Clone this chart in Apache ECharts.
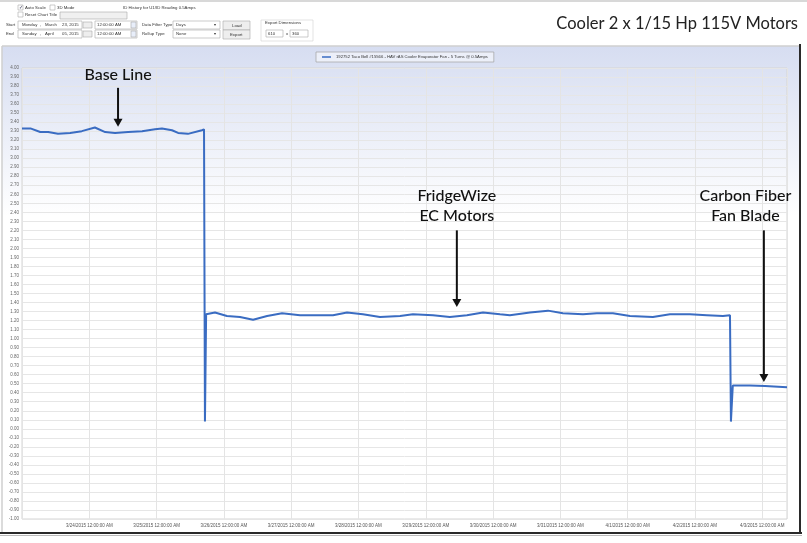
<!DOCTYPE html>
<html><head><meta charset="utf-8">
<script src="https://cdn.jsdelivr.net/npm/echarts@6/dist/echarts.min.js"></script>
<style>html,body{margin:0;padding:0;background:#fff}#c{width:807px;height:543px}</style>
</head><body><div id="c"></div>
<script>
// ---- data ----
const seriesName = '192752 Taco Bell #15566 - HAV rAS Cooler Evaporator Fan - 5 Turns @ 0.5Amps';
const times = [
 '2015-03-23T00:00Z','2015-03-23T03:00Z','2015-03-23T06:30Z','2015-03-23T09:20Z','2015-03-23T12:50Z',
 '2015-03-23T17:10Z','2015-03-23T21:20Z','2015-03-24T02:00Z','2015-03-24T05:40Z','2015-03-24T09:10Z',
 '2015-03-24T13:50Z','2015-03-24T18:50Z','2015-03-24T23:25Z','2015-03-25T01:55Z','2015-03-25T05:30Z',
 '2015-03-25T07:40Z','2015-03-25T11:10Z','2015-03-25T16:10Z','2015-03-25T16:55Z','2015-03-25T17:15Z',
 '2015-03-25T17:40Z','2015-03-25T20:50Z','2015-03-26T01:05Z','2015-03-26T05:45Z','2015-03-26T10:25Z',
 '2015-03-26T15:25Z','2015-03-26T20:45Z','2015-03-27T03:10Z','2015-03-27T09:10Z','2015-03-27T14:55Z',
 '2015-03-27T19:55Z','2015-03-28T01:35Z','2015-03-28T07:40Z','2015-03-28T14:50Z','2015-03-28T19:25Z',
 '2015-03-29T02:35Z','2015-03-29T08:35Z','2015-03-29T14:40Z','2015-03-29T20:25Z','2015-03-30T02:30Z',
 '2015-03-30T06:00Z','2015-03-30T13:10Z','2015-03-30T19:35Z','2015-03-31T00:55Z','2015-03-31T08:05Z',
 '2015-03-31T13:00Z','2015-03-31T18:45Z','2015-04-01T00:50Z','2015-04-01T09:00Z','2015-04-01T15:05Z',
 '2015-04-01T22:10Z','2015-04-02T04:15Z','2015-04-02T10:00Z','2015-04-02T12:30Z','2015-04-02T12:50Z',
 '2015-04-02T13:30Z','2015-04-02T19:35Z','2015-04-03T01:00Z','2015-04-03T08:50Z'
];
const amps = [
 3.33,3.33,3.29,3.29,3.27,
 3.28,3.30,3.34,3.29,3.28,
 3.29,3.30,3.32,3.33,3.31,
 3.28,3.27,3.31,3.32,0.08,
 1.27,1.29,1.25,1.24,1.21,
 1.25,1.28,1.26,1.26,1.26,
 1.29,1.27,1.24,1.25,1.27,
 1.26,1.24,1.26,1.29,1.27,
 1.26,1.29,1.31,1.28,1.27,
 1.28,1.28,1.25,1.24,1.27,
 1.27,1.26,1.25,1.26,0.08,
 0.48,0.48,0.475,0.46
];
const xStart = '2015-03-23T00:00Z';
const xEnd = '2015-04-03T08:50Z';
const yMin = -1, yMax = 4, yStep = 0.1;
const chartTitle = 'Cooler 2 x 1/15 Hp 115V Motors';
// annotations: text, anchor time, text value, arrow from/to values
const noteTexts = ['Base Line', 'FridgeWize\nEC Motors', 'Carbon Fiber\nFan Blade'];
const noteTimes = ['2015-03-24T10:15Z', '2015-03-29T11:05Z', '2015-04-02T18:00Z'];
const noteArrowTimes = ['2015-03-24T10:15Z', '2015-03-29T11:05Z', '2015-04-03T00:35Z'];
const noteTextVals = [3.92, 2.47, 2.47];
const noteArrowFrom = [3.78, 2.20, 2.20];
const noteArrowTo = [3.35, 1.35, 0.52];

// ---- chart ----
const DAY = 86400000;
const chart = echarts.init(document.getElementById('c'), null, {renderer: 'canvas'});
const fmtDay = v => { const d = new Date(v); return (d.getUTCMonth()+1)+'/'+d.getUTCDate()+'/'+d.getUTCFullYear()+' 12:00:00 AM'; };

const ui = [];
const FS = 4.3;
const T = (x, y, s, extra) => ui.push(Object.assign({type:'text', x, y, style:{text:s, fontSize:FS, fill:'#333', fontFamily:'Arial', verticalAlign:'middle'}}, extra||{}));
const B = (x, y, w, h, fill) => ui.push({type:'rect', shape:{x, y, width:w, height:h}, style:{fill: fill||'#fff', stroke:'#a9a9a9', lineWidth:0.6}});
// top toolbar
B(18,5,5,5); T(18.8,7.6,'✓',{style:{text:'✓',fontSize:5,fill:'#335',verticalAlign:'middle'}}); T(25,8,'Auto Scale');
B(50,5,5,5); T(57,8,'3D Mode');
T(123,8,'ID History for U1/ID Reading 0.5Amps');
B(18,12,5,5); T(25,15,'Reset Chart Title');
B(60,12,67,7,'#f0f0f0');
T(6,25,'Start'); B(18,21,64,8); T(22,25,'Monday'); T(40,25,','); T(45,25,'March'); T(62,25,'23, 2015');
B(83,22,9,6,'#eee'); B(95,21,42,8); T(97,25,'12:00:00 AM'); B(131,22,5,6,'#e8eefa');
T(142,25,'Data Filter Type'); B(173,21,47,8); T(176,25,'Days'); T(214,25,'▾');
B(223,21,27,9,'#eee'); T(232,25.5,'Load');
T(6,34,'End'); B(18,30,64,8); T(22,34,'Sunday'); T(40,34,','); T(45,34,'April'); T(62,34,'05, 2015');
B(83,31,9,6,'#eee'); B(95,30,42,8); T(97,34,'12:00:00 AM'); B(131,31,5,6,'#e8eefa');
T(142,34,'Rollup Type'); B(173,30,47,8); T(176,34,'None'); T(214,34,'▾');
B(223,30,27,9,'#eee'); T(230,34.5,'Export');
ui.push({type:'rect', shape:{x:261,y:20,width:52,height:21}, style:{fill:'none', stroke:'#d0d0d0', lineWidth:0.6}});
T(265,23,'Export Dimensions');
B(266,30,17,7); T(268,33.5,'610'); T(286,33.5,'x'); B(290,30,18,7); T(292,33.5,'360');

const bgEls = [
  {type:'rect', z:-10, shape:{x:0,y:0,width:807,height:2}, style:{fill:'#d8d8d8'}},
  {type:'rect', z:-10, shape:{x:2,y:46,width:798,height:487},
   style:{fill:new echarts.graphic.LinearGradient(0,0,0,1,[{offset:0,color:'#d6ddf1'},{offset:0.35,color:'#ffffff'},{offset:1,color:'#ffffff'}]), stroke:'#cfcfcf', lineWidth:1}},
  {type:'rect', z:-9, shape:{x:0,y:532,width:802,height:2}, style:{fill:'#2a2a2a'}},
  {type:'rect', z:-9, shape:{x:799,y:44,width:2,height:490}, style:{fill:'#2a2a2a'}},
  {type:'rect', z:-9, shape:{x:0,y:535,width:802,height:1}, style:{fill:'#bbb'}},
  {type:'text', x:798, y:24, style:{text:chartTitle, fontSize:16.5, fontFamily:'Lato', fill:'#222', align:'right', verticalAlign:'middle'}}
];

chart.setOption({
  animation: false,
  backgroundColor: '#fff',
  legend: {
    data: [seriesName], top: 52, left: 316, padding:[3,6], itemGap: 4,
    borderColor: '#a0a0a0', borderWidth: 0.7, backgroundColor: 'rgba(255,255,255,0.5)',
    icon: 'rect', itemWidth: 9, itemHeight: 1.5,
    textStyle: {fontSize: 4.2, color: '#333', fontFamily: 'Arial'}
  },
  grid: {left: 22, right: 20, top: 68, bottom: 24, show: true, borderColor: '#d4d4d4', borderWidth: 1, backgroundColor: 'transparent'},
  xAxis: {
    type: 'value', min: Date.parse(xStart), max: Date.parse(xEnd), interval: DAY,
    axisLine: {onZero: false, show: false}, axisTick: {show: false},
    splitLine: {show: true, lineStyle: {color: '#e4e4e4', width: 1}},
    axisLabel: {formatter: fmtDay, fontSize: 4.5, color: '#555', showMinLabel: false, showMaxLabel: false, margin: 4, fontFamily: 'Arial'}
  },
  yAxis: {
    type: 'value', min: yMin, max: yMax, interval: yStep,
    axisLine: {show: false}, axisTick: {show: false},
    splitLine: {show: true, lineStyle: {color: '#e6e6e6', width: 1}},
    axisLabel: {formatter: v => v.toFixed(2), fontSize: 4.5, color: '#666', margin: 3, fontFamily: 'Arial'}
  },
  series: [{
    name: seriesName, type: 'line', showSymbol: false, symbol: 'none',
    data: times.map((t, i) => [Date.parse(t), amps[i]]),
    lineStyle: {color: '#3a6cc2', width: 2}, itemStyle: {color: '#3a6cc2'}
  }],
  graphic: bgEls.concat(ui)
});

// annotations placed from data coordinates
const notes = [];
for (let i = 0; i < noteTexts.length; i++) {
  const tp = chart.convertToPixel({gridIndex: 0}, [Date.parse(noteTimes[i]), noteTextVals[i]]);
  const a0 = chart.convertToPixel({gridIndex: 0}, [Date.parse(noteArrowTimes[i]), noteArrowFrom[i]]);
  const a1 = chart.convertToPixel({gridIndex: 0}, [Date.parse(noteArrowTimes[i]), noteArrowTo[i]]);
  notes.push({type:'text', x: tp[0], y: tp[1], z: 100,
    style:{text: noteTexts[i], fontSize: 16, lineHeight: 20, fontFamily: 'Lato', fontWeight: 500, fill: '#111', align: 'center', verticalAlign: 'middle'}});
  notes.push({type:'line', z: 100, shape:{x1:a0[0], y1:a0[1], x2:a1[0], y2:a1[1]-6}, style:{stroke:'#111', lineWidth:2}});
  notes.push({type:'polygon', z: 100, shape:{points:[[a1[0]-4.5, a1[1]-8],[a1[0]+4.5, a1[1]-8],[a1[0], a1[1]]]}, style:{fill:'#111'}});
}
chart.setOption({graphic: bgEls.concat(ui).concat(notes)});
</script></body></html>
